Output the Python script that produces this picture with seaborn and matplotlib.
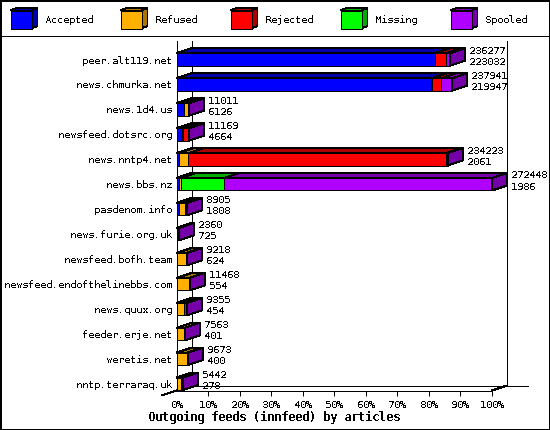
import numpy as np
import pandas as pd
import seaborn as sns
import matplotlib.pyplot as plt
from matplotlib.patches import Polygon, Rectangle

feeds = ['peer.alt119.net', 'news.chmurka.net', 'news.1d4.us', 'newsfeed.dotsrc.org',
         'news.nntp4.net', 'news.bbs.nz', 'pasdenom.info', 'news.furie.org.uk',
         'newsfeed.bofh.team', 'newsfeed.endofthelinebbs.com', 'news.quux.org',
         'feeder.erje.net', 'weretis.net', 'nntp.terraraq.uk']
totals = [236277, 237941, 11011, 11169, 234223, 272448, 8905, 2360, 9218, 11468, 9355, 7563, 9673, 5442]
accepted = [223032, 219947, 6126, 4664, 2061, 1986, 1808, 725, 624, 554, 454, 401, 400, 278]
refused = [300, 700, 4600, 1100, 8290, 1630, 5540, 1500, 8300, 10400, 6276, 6800, 8900, 3340]
rejected = [9000, 7800, 0, 4700, 222350, 0, 0, 0, 0, 0, 1990, 0, 0, 1300]
missing = [0, 0, 0, 0, 0, 37660, 0, 0, 0, 0, 0, 0, 0, 0]
spooled = [3945, 9494, 285, 705, 1522, 231172, 1557, 135, 294, 514, 635, 362, 373, 524]

series_names = ['Accepted', 'Refused', 'Rejected', 'Missing', 'Spooled']
series_values = [accepted, refused, rejected, missing, spooled]
front_colors = ['#0000ff', '#ffb000', '#ff0000', '#00ff00', '#b000ff']
dark_colors = ['#0000aa', '#aa7500', '#aa0000', '#00aa00', '#7500aa']
percent_ticks = list(range(0, 101, 10))

sns.set_theme(style='white')
plt.rcParams['font.family'] = ['DejaVu Sans Mono']
plt.rcParams['text.antialiased'] = False
plt.rcParams['text.hinting'] = 'native'
plt.rcParams['text.hinting_factor'] = 1

W, H = 550, 430
left, right, top, bottom = 176.5, 492, 40.5, 390.5
row0, row_step = 59.5, 24.95
LW = 0.72
FS = 7.2

fig = plt.figure(figsize=(W / 100, H / 100), dpi=100, facecolor='white')

# frame and legend, in pixel coordinates
bg = fig.add_axes([0, 0, 1, 1], zorder=0)
bg.set_xlim(0, W)
bg.set_ylim(H, 0)
bg.axis('off')
for xs, ys in [([0.5, 0.5], [0, H]), ([W - 0.5, W - 0.5], [0, H]), ([0, W], [0.5, 0.5]), ([0, W], [H - 0.5, H - 0.5])]:
    bg.plot(xs, ys, color='black', lw=1.44, antialiased=False, clip_on=True)
bg.plot([0, W], [35.5, 35.5], color='black', lw=LW, antialiased=False)
for i, name in enumerate(series_names):
    x0 = 10.5 + 110 * i
    y0, y1 = 10.5, 28.5
    x1 = x0 + 21
    ddx, ddy = 6, 2.5
    bg.add_patch(Polygon([(x1, y0), (x1 + ddx, y0 - ddy), (x1 + ddx, y1 - ddy), (x1, y1)],
                         fc=dark_colors[i], ec='black', lw=LW, antialiased=False))
    bg.add_patch(Polygon([(x0, y0), (x0 + ddx, y0 - ddy), (x1 + ddx, y0 - ddy), (x1, y0)],
                         fc=dark_colors[i], ec='black', lw=LW, antialiased=False))
    bg.add_patch(Rectangle((x0, y0), 21, 18, fc=front_colors[i], ec='black', lw=LW, antialiased=False))
    bg.text(x0 + 34, 20, name, fontsize=FS, va='center', ha='left', color='black')
bg.text(274, 417, 'Outgoing feeds (innfeed) by articles', fontsize=8.4, fontweight='bold',
        ha='center', va='center', color='black')

ax = fig.add_axes([left / W, (H - bottom) / H, (right - left) / W, (bottom - top) / H], zorder=1)
ax.patch.set_alpha(0)

scale = 100 / max(totals)
pct = np.array(series_values, dtype=float) * scale
cum = pct.cumsum(axis=0)

# stacked bars: longest first, shorter ones painted over it
for i in range(len(series_names) - 1, -1, -1):
    df = pd.DataFrame({'feed': feeds, 'pct': cum[i]})
    sns.barplot(data=df, x='pct', y='feed', order=feeds, color=front_colors[i], saturation=1,
                width=0.5, edgecolor='black', linewidth=LW, antialiased=False, zorder=3, ax=ax)

ax.set_xlim(0, 100)
ylim_bottom = (bottom - row0) / row_step
ylim_top = (top - row0) / row_step
ax.set_ylim(ylim_bottom, ylim_top)

depth_x = 15 / ((right - left) / 100)
depth_y = 5 / row_step
half = 0.25

# top faces and end faces of the 3d bars
for r in range(len(feeds)):
    start = 0
    for i in range(len(series_names)):
        end = cum[i][r]
        if end > start:
            ax.add_patch(Polygon([(start, r - half), (end, r - half),
                                  (end + depth_x, r - half - depth_y), (start + depth_x, r - half - depth_y)],
                                 fc=dark_colors[i], ec='black', lw=LW, antialiased=False, zorder=3, clip_on=False))
            last = i
        start = end
    ax.add_patch(Polygon([(start, r - half), (start + depth_x, r - half - depth_y),
                          (start + depth_x, r + half - depth_y), (start, r + half)],
                         fc=dark_colors[last], ec='black', lw=LW, antialiased=False, zorder=3, clip_on=False))
    label_x = start + depth_x + 4 / ((right - left) / 100)
    ax.text(label_x, r - 8.8 / row_step, str(totals[r]), fontsize=FS, va='center', ha='left',
            color='black', zorder=5, clip_on=False)
    ax.text(label_x, r + 2.3 / row_step, str(accepted[r]), fontsize=FS, va='center', ha='left',
            color='black', zorder=5, clip_on=False)

# back wall lines
back_y = ylim_bottom - depth_y
line_kw = dict(color='black', lw=LW, antialiased=False, clip_on=False, zorder=1)
ax.plot([depth_x, depth_x], [ylim_top, back_y], **line_kw)
ax.plot([100 + depth_x, 100 + depth_x], [ylim_top, back_y], **line_kw)
ax.plot([depth_x, 100 + depth_x + 21 / ((right - left) / 100)], [back_y, back_y], **line_kw)
ax.plot([-depth_x, depth_x], [ylim_bottom + depth_y, back_y], **line_kw)
ax.plot([100, 100 + depth_x], [ylim_bottom, back_y], **line_kw)

sns.despine(ax=ax, top=True, right=True)
for side in ['left', 'bottom']:
    ax.spines[side].set_color('black')
    ax.spines[side].set_linewidth(LW)
    ax.spines[side].set_antialiased(False)

ax.set_xlabel('')
ax.set_ylabel('')
ax.set_xticks(percent_ticks)
ax.set_xticklabels([f'{p}%' for p in percent_ticks])
ax.tick_params(axis='x', bottom=True, length=3.6, width=LW, color='black', labelsize=FS,
               labelcolor='black', pad=3)
ax.tick_params(axis='y', left=False, length=0, labelsize=FS, labelcolor='black', pad=3.5)
ax.xaxis.get_major_ticks()[0].tick1line.set_visible(False)
for t in ax.xaxis.get_major_ticks():
    t.tick1line.set_antialiased(False)

fig.savefig('out.png', dpi=100)
